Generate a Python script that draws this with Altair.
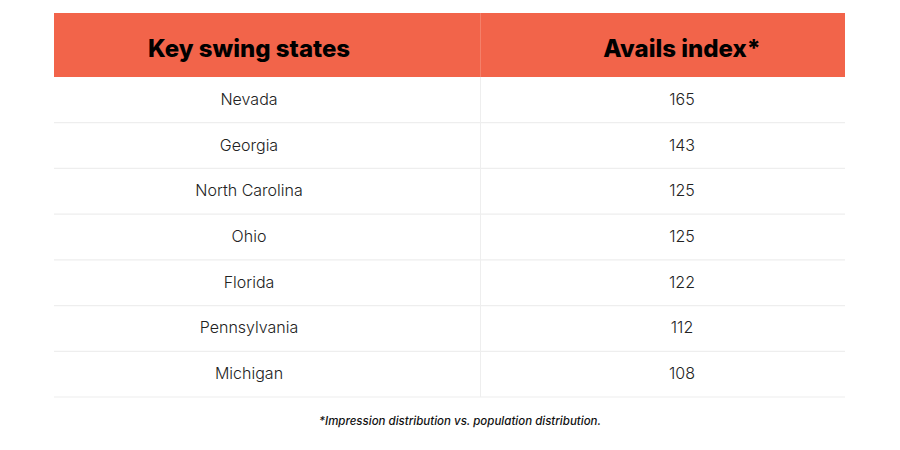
import altair as alt
import pandas as pd

states = ["Nevada", "Georgia", "North Carolina", "Ohio", "Florida", "Pennsylvania", "Michigan"]
values = [165, 143, 125, 125, 122, 112, 108]
headers = ["Key swing states", "Avails index*"]
footnote = ["*Impression distribution vs. population distribution."]

df = pd.DataFrame({"state": states, "value": values})
hdr = pd.DataFrame({"col": headers, "xpos": [241, 674]})
fn = pd.DataFrame({"note": footnote})

FONT = "Inter"
HEAD = "#F2644A"
LINE = "#EEEEEE"

yscale = alt.Scale(domain=states, range=[69, 389], paddingInner=0, paddingOuter=0)

header_bg = alt.Chart(fn).mark_rect(color=HEAD).encode(
    x=alt.value(46), x2=alt.value(837), y=alt.value(5), y2=alt.value(69)
)
divider_body = alt.Chart(fn).mark_rule(color=LINE, strokeWidth=1).encode(
    x=alt.value(472.5), y=alt.value(69), y2=alt.value(389)
)
divider_head = alt.Chart(fn).mark_rule(color="white", opacity=0.18, strokeWidth=1).encode(
    x=alt.value(472.5), y=alt.value(5), y2=alt.value(69)
)
row_lines = alt.Chart(df).mark_rule(color=LINE, strokeWidth=1.2).encode(
    y=alt.Y("state:N", scale=yscale, bandPosition=1, axis=None),
    x=alt.value(46), x2=alt.value(837)
)
head_text = alt.Chart(hdr).mark_text(
    font=FONT, fontSize=24, fontWeight=800, color="#000000", baseline="middle"
).encode(
    x=alt.X("xpos:Q", scale=None, axis=None), y=alt.value(42), text="col:N"
)
state_text = alt.Chart(df).mark_text(
    font=FONT, fontSize=16, fontWeight=300, color="#222222", baseline="middle"
).encode(
    y=alt.Y("state:N", scale=yscale, axis=None), x=alt.value(241), text="state:N"
)
value_text = alt.Chart(df).mark_text(
    font=FONT, fontSize=16, fontWeight=300, color="#222222", baseline="middle"
).encode(
    y=alt.Y("state:N", scale=yscale, axis=None), x=alt.value(674), text="value:Q"
)
note_text = alt.Chart(fn).mark_text(
    font=FONT, fontSize=11.5, fontWeight=500, fontStyle="italic", color="#111111", baseline="middle"
).encode(
    x=alt.value(452), y=alt.value(414), text="note:N"
)

chart = alt.layer(
    header_bg, divider_body, divider_head, row_lines, head_text, state_text, value_text, note_text
).properties(
    width=884, height=434, autosize=alt.AutoSizeParams(type="none"), padding=0
).configure_view(stroke=None)

chart.save("out.html", embed_options={"renderer": "svg", "actions": False})
